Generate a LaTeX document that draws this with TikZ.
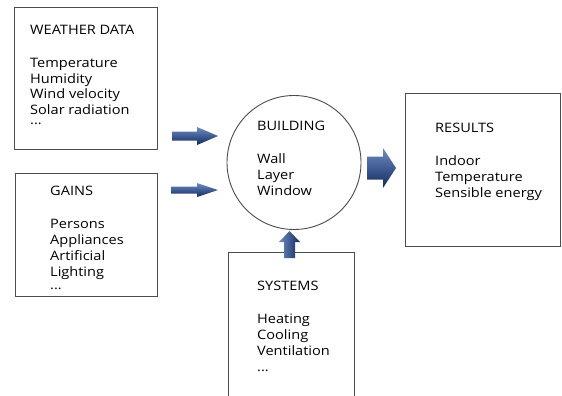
\documentclass[tikz,border=0pt]{standalone}
\usepackage{fontspec}
\setmainfont{Open Sans}[FakeStretch=1.12]
\begin{document}
\begin{tikzpicture}[x=1pt,y=-1pt,
  frame/.style={draw=black!70, line width=0.9pt, fill=none},
  label/.style={anchor=base west, inner sep=0pt, align=left,
    font=\fontsize{13}{16}\selectfont, text=black},
  barrow/.style={top color=arrowlight, middle color=arrowmid, bottom color=arrowdark, draw=none},
  barrowup/.style={left color=arrowlight, middle color=arrowmid, right color=arrowdark, draw=none}]
\definecolor{arrowlight}{RGB}{110,140,195}
\definecolor{arrowmid}{RGB}{28,62,130}
\definecolor{arrowdark}{RGB}{18,42,95}
\useasboundingbox (0,0) rectangle (562,396);
\fill[white] (0,0) rectangle (562,396);

% boxes
\draw[frame] (14,7) rectangle (157,149);
\node[inner sep=0pt] (weather) at (85.5,78) {};
\draw[frame] (15,173) rectangle (157,296);
\node[inner sep=0pt] (gains) at (86,234.5) {};
\draw[frame] (405,93) rectangle (560.5,246);
\node[inner sep=0pt] (results) at (482.75,169.5) {};
\draw[frame] (228,400) -- (228,252) -- (354,252) -- (354,400);
\node[inner sep=0pt] (systems) at (291,326) {};
\node[circle, draw=black!70, line width=0.9pt, minimum size=134pt, inner sep=0pt] (building) at (294,162.5) {};

% texts (anchored at the baseline of their last line)
\node[label] (weathertext) at (30,124) {WEATHER DATA\\[17pt]Temperature\\Humidity\\Wind velocity\\Solar radiation\\[-7pt]...};
\node[label] (gainstext) at (50,289) {GAINS\\[17pt]Persons\\Appliances\\Artificial\\Lighting\\[-3pt]...};
\node[label] (buildingtext) at (257,195) {BUILDING\\[17pt]Wall\\Layer\\Window};
\node[label] (resultstext) at (435,197) {RESULTS\\[17pt]Indoor\\Temperature\\Sensible energy};
\node[label] (systemstext) at (257,371) {SYSTEMS\\[17pt]Heating\\Cooling\\Ventilation\\...};

% block arrows into and out of the building
\shade[barrow, shift={(172,136)}] (0,-4.5) -- (25,-4.5) -- (25,-9) -- (46,0) -- (25,9) -- (25,4.5) -- (0,4.5) -- cycle;
\shade[barrow, shift={(171,190)}] (0,-3.5) -- (26,-3.5) -- (26,-7) -- (47,0) -- (26,7) -- (26,3.5) -- (0,3.5) -- cycle;
\shade[barrow, shift={(367,168)}] (0,-11.5) -- (16,-11.5) -- (16,-20) -- (29,0) -- (16,20) -- (16,11.5) -- (0,11.5) -- cycle;
\shade[barrowup, shift={(289.5,258)}] (-5.5,0) -- (-5.5,-16) -- (-10.5,-16) -- (0,-27) -- (10.5,-16) -- (5.5,-16) -- (5.5,0) -- cycle;
\end{tikzpicture}
\end{document}
